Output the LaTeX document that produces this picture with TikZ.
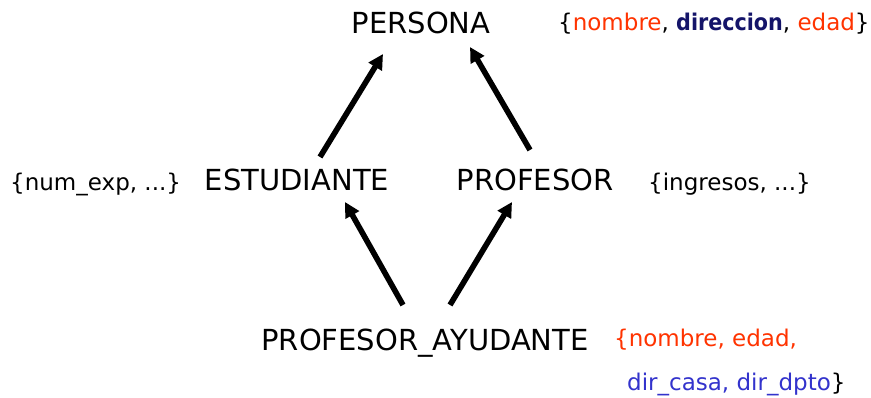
\documentclass[tikz,border=0pt]{standalone}
\usepackage{fontspec}
\setmainfont{DejaVu Sans}
\newfontfamily\condbold{DejaVu Sans Condensed Bold}
\usepackage{xcolor}
\usepackage{tikz}
\usetikzlibrary{arrows.meta, calc, positioning}

\definecolor{attrred}{RGB}{255,51,0}
\definecolor{attrnavy}{RGB}{20,20,105}
\definecolor{attrblue}{RGB}{51,51,204}

\begin{document}
\begin{tikzpicture}[
  x=1pt, y=1pt,
  every node/.style={inner sep=0pt, anchor=base},
  cls/.style={font=\fontsize{29}{34}\selectfont},
  attr/.style={anchor=base west, font=\fontsize{23}{28}\selectfont},
  inherit/.style={line width=5.6pt, -{Triangle[length=15pt, width=15pt]}}
]
\useasboundingbox (0,0) rectangle (871,398);

% Class nodes
\node[cls] (persona) at (421,364) {PERSONA};
\node[cls] (estudiante) at (297,207) {ESTUDIANTE};
\node[cls] (profesor) at (535,207) {PROFESOR};
\node[cls] (ayudante) at (425,47) {PROFESOR\_AYUDANTE};

% Attribute sets
\node[attr] (persona_attr) at (558,367) {\{\textcolor{attrred}{nombre}, \textcolor{attrnavy}{\condbold direccion}, \textcolor{attrred}{edad}\}};
\node[attr] (estudiante_attr) at (10,207) {\{num\_exp, ...\}};
\node[attr] (profesor_attr) at (648,207) {\{ingresos, ...\}};
\node[attr, text=attrred] (ayudante_attr1) at (614,51) {\{nombre, edad,};
\node[attr, text=attrblue] (ayudante_attr2) at (627,7) {dir\_casa, dir\_dpto\textcolor{black}{\}}};

% Arrows
\draw[inherit] ($(estudiante.base)+(23,34)$) -- ($(persona.base)+(-38,-20)$);
\draw[inherit] ($(profesor.base)+(-5,41)$) -- ($(persona.base)+(49,-13)$);
\draw[inherit] ($(ayudante.base)+(-22,46)$) -- ($(estudiante.base)+(48,-11)$);
\draw[inherit] ($(ayudante.base)+(25,46)$) -- ($(profesor.base)+(-23,-11)$);
\end{tikzpicture}
\end{document}
